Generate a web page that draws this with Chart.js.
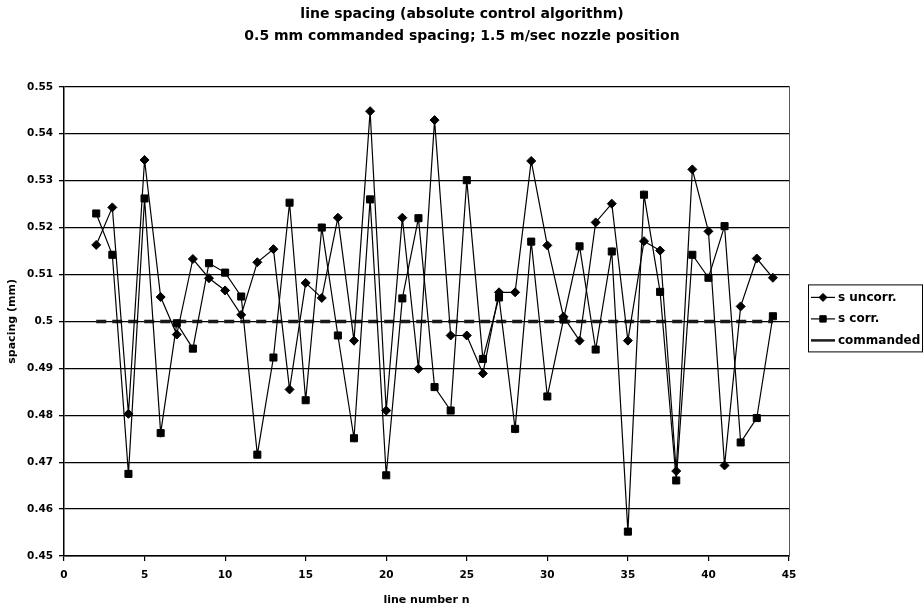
<!DOCTYPE html>
<html>
<head>
<meta charset="utf-8">
<script src="https://cdn.jsdelivr.net/npm/chart.js@4.4.1/dist/chart.umd.min.js"></script>
<style>
html,body{margin:0;padding:0;background:#fff;}
#wrap{width:924px;height:608px;}
</style>
</head>
<body>
<div id="wrap"><canvas id="c" width="924" height="608"></canvas></div>
<script>
const titleLines = ['line spacing (absolute control algorithm)', '0.5 mm commanded spacing; 1.5 m/sec nozzle position'];
const xAxisTitle = 'line number n';
const yAxisTitle = 'spacing (mm)';
const seriesLabels = ['s uncorr.', 's corr.', 'commanded'];

const lineNumbers = [2, 3, 4, 5, 6, 7, 8, 9, 10, 11, 12, 13, 14, 15, 16, 17, 18, 19, 20, 21, 22, 23,
  24, 25, 26, 27, 28, 29, 30, 31, 32, 33, 34, 35, 36, 37, 38, 39, 40, 41, 42, 43, 44];

const sUncorr = [0.5163, 0.5243, 0.4803, 0.5344, 0.5052, 0.4972, 0.5133, 0.5092, 0.5066, 0.5014,
  0.5126, 0.5154, 0.4855, 0.5082, 0.5050, 0.5221, 0.4959, 0.5448, 0.4810, 0.5221, 0.4899, 0.5429,
  0.4970, 0.4970, 0.4889, 0.5062, 0.5062, 0.5342, 0.5162, 0.5010, 0.4959, 0.5211, 0.5251, 0.4959,
  0.5171, 0.5151, 0.4681, 0.5324, 0.5192, 0.4693, 0.5032, 0.5134, 0.5093];

const sCorr = [0.5230, 0.5142, 0.4675, 0.5262, 0.4762, 0.4996, 0.4942, 0.5124, 0.5104, 0.5053,
  0.4716, 0.4923, 0.5253, 0.4832, 0.5200, 0.4970, 0.4751, 0.5260, 0.4672, 0.5049, 0.5220, 0.4860,
  0.4810, 0.5301, 0.4920, 0.5051, 0.4771, 0.5170, 0.4840, 0.5004, 0.5160, 0.4940, 0.5149, 0.4552,
  0.5270, 0.5063, 0.4661, 0.5142, 0.5093, 0.5203, 0.4742, 0.4794, 0.5011];

const commandedX = [2, 44];
const commandedY = [0.5, 0.5];

const xTickLabels = ['0', '5', '10', '15', '20', '25', '30', '35', '40', '45'];
const yTickLabels = ['0.45', '0.46', '0.47', '0.48', '0.49', '0.5', '0.51', '0.52', '0.53', '0.54', '0.55'];

const FONT = "'DejaVu Sans', 'Liberation Sans', Arial, sans-serif";

function pts(xs, ys) { return xs.map((x, i) => ({x: x, y: ys[i]})); }
function labelFor(list, v) {
  const hit = list.find(l => Math.abs(parseFloat(l) - v) < 1e-6);
  return hit === undefined ? '' : hit;
}

const legendPlugin = {
  id: 'boxLegend',
  afterDraw(chart) {
    const ctx = chart.ctx;
    const a = chart.chartArea;
    const bw = 114, bh = 67;
    const bx = a.right + 19;
    const by = (a.top + a.bottom) / 2 - 37;
    ctx.save();
    ctx.fillStyle = '#fff';
    ctx.fillRect(bx, by, bw, bh);
    ctx.strokeStyle = '#000';
    ctx.lineWidth = 1;
    ctx.strokeRect(bx + 0.5, by + 0.5, bw, bh);
    chart.data.datasets.forEach((ds, i) => {
      const y = by + 13 + i * 21.5;
      ctx.save();
      ctx.strokeStyle = ds.borderColor;
      ctx.lineWidth = i === 2 ? 2.5 : 1.2;
      ctx.beginPath();
      ctx.moveTo(bx + 3, y);
      ctx.lineTo(bx + 27, y);
      ctx.stroke();
      ctx.restore();
      if (ds.pointRadius > 0) {
        ctx.save();
        ctx.fillStyle = ds.backgroundColor;
        ctx.strokeStyle = ds.borderColor;
        ctx.lineWidth = 1;
        Chart.helpers.drawPoint(ctx, {pointStyle: ds.pointStyle, radius: ds.pointStyle === 'rect' ? 4.5 : 4, rotation: 0, borderWidth: 1}, bx + 15, y);
        ctx.restore();
      }
      ctx.fillStyle = '#000';
      ctx.font = 'bold 12px ' + FONT;
      ctx.textBaseline = 'middle';
      ctx.textAlign = 'left';
      ctx.fillText(ds.label, bx + 30, y);
    });
    ctx.restore();
  }
};

new Chart(document.getElementById('c'), {
  type: 'line',
  data: {
    datasets: [
      {
        label: seriesLabels[0],
        data: pts(lineNumbers, sUncorr),
        borderColor: '#000', backgroundColor: '#000',
        borderWidth: 1.2, tension: 0,
        pointStyle: 'rectRot', pointRadius: 4.5, pointBorderWidth: 1
      },
      {
        label: seriesLabels[1],
        data: pts(lineNumbers, sCorr),
        borderColor: '#000', backgroundColor: '#000',
        borderWidth: 1.2, tension: 0,
        pointStyle: 'rect', pointRadius: 5, pointBorderWidth: 1
      },
      {
        label: seriesLabels[2],
        data: pts(commandedX, commandedY),
        borderColor: '#1a1a1a', backgroundColor: '#1a1a1a',
        borderWidth: 3.5, borderDash: [10, 6], tension: 0,
        pointRadius: 0
      }
    ]
  },
  options: {
    responsive: false,
    animation: false,
    devicePixelRatio: 1,
    layout: {padding: 0},
    plugins: {
      legend: {display: false},
      tooltip: {enabled: false},
      title: {
        display: true,
        text: titleLines,
        color: '#000',
        font: {family: FONT, weight: 'bold', size: 14, lineHeight: 1.6},
        padding: {top: 3, bottom: 39}
      }
    },
    scales: {
      x: {
        type: 'linear', min: 0, max: 45,
        afterFit: s => { s.height = 52; },
        ticks: {
          stepSize: 5, color: '#000', padding: 8,
          font: {family: FONT, weight: 'bold', size: 10.5},
          callback: v => labelFor(xTickLabels, v)
        },
        grid: {drawOnChartArea: false, drawTicks: true, tickLength: 5, color: '#000', lineWidth: 1.2},
        border: {display: true, color: '#000', width: 1.5},
        title: {
          display: true, text: xAxisTitle, color: '#000',
          font: {family: FONT, weight: 'bold', size: 11},
          padding: {top: 0, bottom: 1}
        }
      },
      y: {
        min: 0.45, max: 0.55,
        afterFit: s => { s.width = 64; },
        ticks: {
          stepSize: 0.01, color: '#000', padding: 6,
          font: {family: FONT, weight: 'bold', size: 10.5},
          callback: v => labelFor(yTickLabels, v)
        },
        grid: {drawOnChartArea: true, drawTicks: true, tickLength: 5, color: '#000', lineWidth: 1.3},
        border: {display: true, color: '#000', width: 1.5},
        title: {
          display: true, text: yAxisTitle, color: '#000',
          font: {family: FONT, weight: 'bold', size: 11},
          padding: {top: 6, bottom: 0}
        }
      },
      y2: {
        position: 'right',
        display: true,
        afterFit: s => { s.width = 135; },
        grid: {display: false},
        ticks: {display: false},
        border: {display: true, color: '#555', width: 1, dash: [2, 2]}
      }
    }
  },
  plugins: [legendPlugin]
});
</script>
</body>
</html>
